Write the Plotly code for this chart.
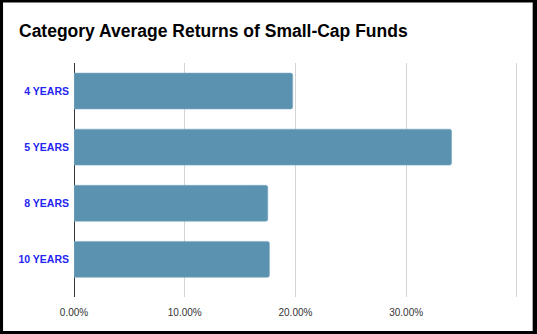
import plotly.graph_objects as go

categories = ["4 YEARS", "5 YEARS", "8 YEARS", "10 YEARS"]
returns_pct = [19.75, 34.1, 17.5, 17.65]
tick_vals = [0, 10, 20, 30, 40]
tick_text = ["0.00%", "10.00%", "20.00%", "30.00%", ""]

W, H = 537, 334
X_MAX = 40.1
L, T, B = 74, 62.6, 37
R = W - L - 443.2 * X_MAX / 40

pw = W - L - R
ph = H - T - B

fig = go.Figure(
    go.Bar(
        x=returns_pct,
        y=categories,
        orientation="h",
        marker=dict(color="#5a92af", cornerradius=2,
                    line=dict(color="#7fabc2", width=0.6)),
        width=0.64,
        hoverinfo="skip",
    )
)

# white inner card over a black page background -> black frame
def px_x(p):
    return (p - L) / pw

def px_y(p):
    return 1 - (p - T) / ph

fig.add_shape(type="rect", xref="paper", yref="paper",
              x0=px_x(3), x1=px_x(533), y0=px_y(331), y1=px_y(2),
              fillcolor="white", line=dict(width=0), layer="below")

fig.update_layout(
    width=W, height=H,
    margin=dict(l=L, r=R, t=T, b=B, pad=0),
    paper_bgcolor="black",
    plot_bgcolor="white",
    showlegend=False,
    font=dict(family="Liberation Sans, Arial, sans-serif"),
    title=dict(
        text="<b>Category Average Returns of Small-Cap Funds</b>",
        font=dict(size=17.5, color="#000000"),
        xref="container", yref="container",
        x=19 / W, xanchor="left",
        y=1 - 31 / H, yanchor="middle",
    ),
    xaxis=dict(
        range=[0, X_MAX],
        tickvals=tick_vals,
        ticktext=tick_text,
        showgrid=True,
        gridcolor="#d4d4d4",
        gridwidth=1,
        zeroline=True,
        zerolinecolor="#333333",
        zerolinewidth=1,
        showline=False,
        ticks="",
        tickfont=dict(size=10, color="#333333"),
        ticklabelstandoff=8,
        fixedrange=True,
    ),
    yaxis=dict(
        range=[3.5 + (297 - 287.4) / 56.2, -0.5],
        showgrid=False,
        zeroline=False,
        showline=False,
        ticks="",
        tickfont=dict(size=10.5, color="#2626f2", family="Liberation Sans, Arial, sans-serif"),
        ticklabelstandoff=4,
        fixedrange=True,
    ),
)

# make y tick labels bold
fig.update_yaxes(ticktext=["<b>%s</b>" % c for c in categories], tickvals=categories)

fig.write_html("out.html")
